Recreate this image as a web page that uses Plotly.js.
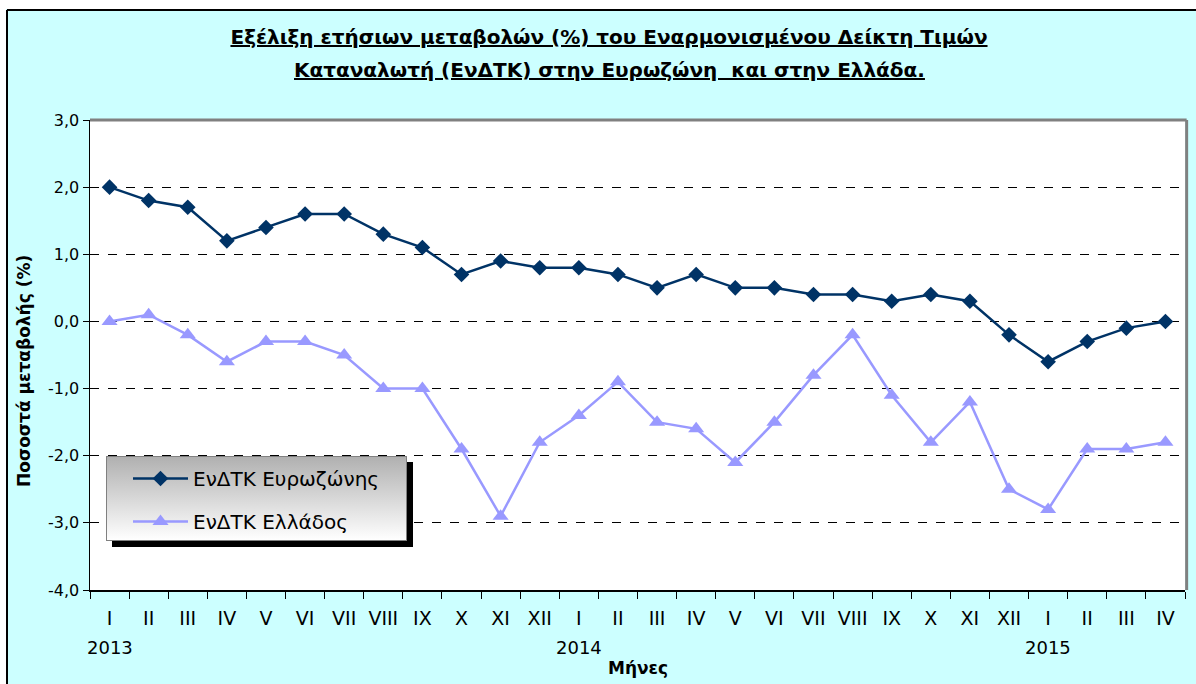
<!DOCTYPE html>
<html>
<head>
<meta charset="utf-8">
<script src="https://cdn.plot.ly/plotly-3.0.1.min.js"></script>
<style>
html, body { margin: 0; padding: 0; background: #ffffff; }
#chart { width: 1196px; height: 684px; }
</style>
</head>
<body>
<div id="chart"></div>
<script>
// ---- data ----
var months = ["I","II","III","IV","V","VI","VII","VIII","IX","X","XI","XII",
              "I","II","III","IV","V","VI","VII","VIII","IX","X","XI","XII",
              "I","II","III","IV"];
var years = ["2013","2013","2013","2013","2013","2013","2013","2013","2013","2013","2013","2013",
             "2014","2014","2014","2014","2014","2014","2014","2014","2014","2014","2014","2014",
             "2015","2015","2015","2015"];
var yearLabels = ["2013","2014","2015"];
var euroArea = [2.0, 1.8, 1.7, 1.2, 1.4, 1.6, 1.6, 1.3, 1.1, 0.7, 0.9, 0.8,
                0.8, 0.7, 0.5, 0.7, 0.5, 0.5, 0.4, 0.4, 0.3, 0.4, 0.3, -0.2,
                -0.6, -0.3, -0.1, 0.0];
var greece = [0.0, 0.1, -0.2, -0.6, -0.3, -0.3, -0.5, -1.0, -1.0, -1.9, -2.9, -1.8,
              -1.4, -0.9, -1.5, -1.6, -2.1, -1.5, -0.8, -0.2, -1.1, -1.8, -1.2, -2.5,
              -2.8, -1.9, -1.9, -1.8];
var seriesNames = ["ΕνΔΤΚ Ευρωζώνης", "ΕνΔΤΚ Ελλάδος"];
var yTicks = [-4, -3, -2, -1, 0, 1, 2, 3];
var yTickLabels = ["-4,0", "-3,0", "-2,0", "-1,0", "0,0", "1,0", "2,0", "3,0"];
var titleLines = ["Εξέλιξη ετήσιων μεταβολών (%) του Εναρμονισμένου Δείκτη Τιμών",
                  "Καταναλωτή (ΕνΔΤΚ) στην Ευρωζώνη  και στην Ελλάδα."];

// category keys built from months + years
var cats = months.map(function (m, i) { return m + " " + years[i]; });
var yearPos = yearLabels.map(function (y) { return "I " + y; });

var FONT = "DejaVu Sans, Liberation Sans, Arial, sans-serif";

var traces = [
  {
    x: cats, y: euroArea, type: "scatter", mode: "lines+markers",
    name: seriesNames[0], legendgroup: "a",
    line: { color: "#003366", width: 2.5 },
    marker: { symbol: "diamond", size: 12, color: "#003366" }
  },
  {
    x: cats, y: greece, type: "scatter", mode: "lines+markers",
    name: seriesNames[1], legendgroup: "b",
    line: { color: "#9999FF", width: 2.5 },
    marker: { symbol: "triangle-up", size: 14, color: "#9999FF" }
  }
];

function px2x(px) { return (px - 90) / 1095; }
function px2y(py) { return (590 - py) / 470; }

var legendSvg =
  '<svg xmlns="http://www.w3.org/2000/svg" width="307" height="91" viewBox="0 0 307 91">' +
  '<defs><linearGradient id="g" x1="0" y1="0" x2="0" y2="1">' +
  '<stop offset="0" stop-color="#b0b0b0"/><stop offset="1" stop-color="#ffffff"/></linearGradient></defs>' +
  '<rect x="6" y="6" width="301" height="85" fill="#000000"/>' +
  '<rect x="0.5" y="0.5" width="300" height="84" fill="url(#g)" stroke="#808080" stroke-width="1"/>' +
  '</svg>';
var legendImg = "data:image/svg+xml;charset=utf-8," + encodeURIComponent(legendSvg);

var annotations = yearLabels.map(function (y, i) {
  return {
    x: yearPos[i], xref: "x", y: px2y(647), yref: "paper",
    text: y, showarrow: false, xanchor: "center", yanchor: "middle",
    font: { family: FONT, size: 18, color: "#000000" }
  };
});
annotations.push({
  x: px2x(609), xref: "paper", y: px2y(70), yref: "paper",
  text: titleLines[1], showarrow: false, xanchor: "center", yanchor: "middle",
  font: { family: FONT, size: 20, color: "#000000", weight: "bold", lineposition: "under" }
});
annotations.push({
  x: 0.5, xref: "paper", y: px2y(668), yref: "paper",
  text: "Μήνες", showarrow: false, xanchor: "center", yanchor: "middle",
  font: { family: FONT, size: 17, color: "#000000", weight: "bold" }
});
annotations.push({
  x: px2x(24), xref: "paper", y: px2y(371), yref: "paper",
  text: "Ποσοστά μεταβολής (%)", textangle: -90, showarrow: false,
  xanchor: "center", yanchor: "middle",
  font: { family: FONT, size: 17, color: "#000000", weight: "bold" }
});

var layout = {
  width: 1196, height: 684,
  margin: { l: 90, r: 11, t: 120, b: 94 },
  paper_bgcolor: "#CCFFFF",
  plot_bgcolor: "#FFFFFF",
  showlegend: true,
  title: {
    text: titleLines[0],
    x: 609 / 1196, xanchor: "center", xref: "container",
    y: 1 - 37 / 684, yanchor: "middle", yref: "container",
    font: { family: FONT, size: 20, color: "#000000", weight: "bold", lineposition: "under" }
  },
  xaxis: {
    type: "category",
    categoryorder: "array", categoryarray: cats,
    range: [-0.5, cats.length - 0.5],
    tickvals: cats, ticktext: months,
    tickson: "boundaries",
    ticks: "outside", ticklen: 7, tickcolor: "#000000", tickwidth: 1,
    ticklabelstandoff: 11,
    showline: true, linecolor: "#000000", linewidth: 1.5,
    showgrid: false, zeroline: false,
    tickfont: { family: FONT, size: 19, color: "#000000" },
    fixedrange: true
  },
  yaxis: {
    range: [-4, 3], tickvals: yTicks, ticktext: yTickLabels,
    ticks: "outside", ticklen: 6, tickcolor: "#000000", tickwidth: 1,
    showline: true, linecolor: "#000000", linewidth: 1.5,
    showgrid: true, gridcolor: "#000000", gridwidth: 1, griddash: "dash",
    zeroline: false,
    tickfont: { family: FONT, size: 16, color: "#000000" },
    fixedrange: true
  },
  legend: {
    x: px2x(128), y: px2y(459), xanchor: "left", yanchor: "top",
    bgcolor: "rgba(0,0,0,0)", borderwidth: 0,
    itemwidth: 55,
    traceorder: "grouped", tracegroupgap: 14,
    font: { family: FONT, size: 20, color: "#000000" }
  },
  images: [{
    source: legendImg, xref: "paper", yref: "paper",
    x: px2x(106), y: px2y(456), sizex: 307 / 1095, sizey: 91 / 470,
    xanchor: "left", yanchor: "top", sizing: "stretch", layer: "above"
  }],
  shapes: [
    // plot-area top and right gray borders
    { type: "line", xref: "paper", yref: "paper", x0: 0, x1: 1.0015, y0: 1, y1: 1,
      line: { color: "#808080", width: 3 } },
    { type: "line", xref: "paper", yref: "paper", x0: 1.0015, x1: 1.0015, y0: 0, y1: 1,
      line: { color: "#808080", width: 3 } },
    // white strips outside the frame
    { type: "rect", xref: "paper", yref: "paper", x0: px2x(-5), x1: px2x(6), y0: px2y(700), y1: px2y(-5),
      fillcolor: "#FFFFFF", line: { width: 0 } },
    { type: "rect", xref: "paper", yref: "paper", x0: px2x(-5), x1: px2x(1205), y0: px2y(9), y1: px2y(-5),
      fillcolor: "#FFFFFF", line: { width: 0 } },
    // outer frame (left and top)
    { type: "line", xref: "paper", yref: "paper", x0: px2x(7), x1: px2x(7), y0: px2y(700), y1: px2y(10),
      line: { color: "#000000", width: 2 } },
    { type: "line", xref: "paper", yref: "paper", x0: px2x(7), x1: px2x(1205), y0: px2y(10), y1: px2y(10),
      line: { color: "#000000", width: 2 } }
  ],
  annotations: annotations
};

Plotly.newPlot("chart", traces, layout, { displayModeBar: false, staticPlot: true });
</script>
</body>
</html>
